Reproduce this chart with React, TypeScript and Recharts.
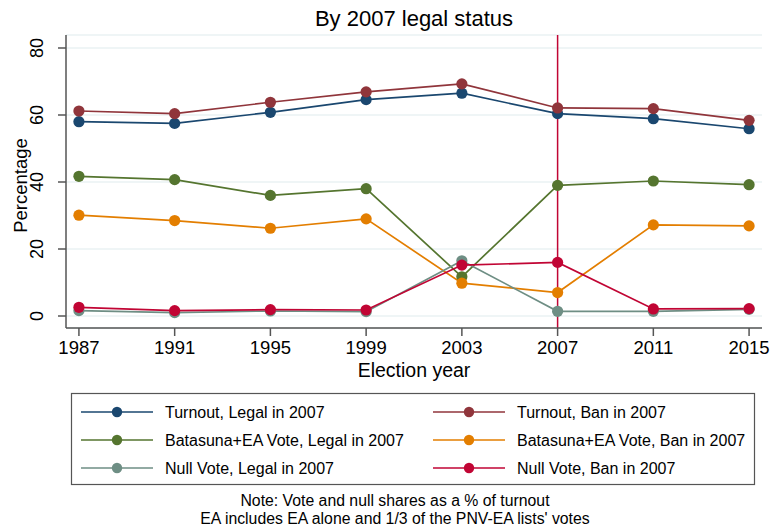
import React from 'react';
import { LineChart, Line, XAxis, YAxis, CartesianGrid, ReferenceLine } from 'recharts';

// Election years and series values (percent)
const years = [1987, 1991, 1995, 1999, 2003, 2007, 2011, 2015];
const turnoutLegal = [58.0, 57.5, 60.8, 64.6, 66.5, 60.4, 58.9, 55.9];
const turnoutBan = [61.2, 60.4, 63.8, 66.9, 69.3, 62.1, 61.9, 58.4];
const batasunaLegal = [41.7, 40.7, 36.0, 38.0, 11.7, 39.0, 40.3, 39.2];
const batasunaBan = [30.1, 28.5, 26.2, 29.0, 9.8, 7.0, 27.2, 26.9];
const nullLegal = [1.6, 1.0, 1.5, 1.3, 16.5, 1.4, 1.4, 2.0];
const nullBan = [2.6, 1.6, 1.9, 1.8, 15.2, 16.0, 2.1, 2.2];

const yTicks = [0, 20, 40, 60, 80];
const banYear = 2007;

const series = [
  { key: 'turnoutLegal', name: 'Turnout, Legal in 2007', color: '#1a476f', values: turnoutLegal },
  { key: 'turnoutBan', name: 'Turnout, Ban in 2007', color: '#90353b', values: turnoutBan },
  { key: 'batasunaLegal', name: 'Batasuna+EA Vote, Legal in 2007', color: '#55752f', values: batasunaLegal },
  { key: 'batasunaBan', name: 'Batasuna+EA Vote, Ban in 2007', color: '#e37e00', values: batasunaBan },
  { key: 'nullLegal', name: 'Null Vote, Legal in 2007', color: '#6e8e84', values: nullLegal },
  { key: 'nullBan', name: 'Null Vote, Ban in 2007', color: '#c10534', values: nullBan },
];

const data = years.map((year, i) => {
  const row: Record<string, number> = { year };
  series.forEach((s) => {
    row[s.key] = s.values[i];
  });
  return row;
});

const FONT = 'Arial, "Liberation Sans", Helvetica, sans-serif';

const YTick = (props: any) => {
  const { x, y, payload } = props;
  const cx = x - 13;
  return (
    <text
      x={cx}
      y={y}
      transform={`rotate(-90 ${cx} ${y})`}
      textAnchor="middle"
      fontSize={18}
      fill="#000"
      fontFamily={FONT}
    >
      {payload.value}
    </text>
  );
};

const YLabel = (props: any) => {
  const { viewBox } = props;
  const cx = viewBox.x + 27;
  const cy = viewBox.y + viewBox.height / 2 + 4;
  return (
    <text
      x={cx}
      y={cy}
      transform={`rotate(-90 ${cx} ${cy})`}
      textAnchor="middle"
      fontSize={18.5}
      fill="#000"
      fontFamily={FONT}
    >
      Percentage
    </text>
  );
};

const XLabel = (props: any) => {
  const { viewBox } = props;
  return (
    <text
      x={viewBox.x + viewBox.width / 2}
      y={viewBox.y + 49}
      textAnchor="middle"
      fontSize={19.5}
      fill="#000"
      fontFamily={FONT}
    >
      Election year
    </text>
  );
};

const legendRows = [0, 1, 2];
const legendCols = [0, 1];

export default function App() {
  return (
    <div style={{ position: 'absolute', left: 0, top: 0, width: 773, height: 532, background: '#fff', fontFamily: FONT }}>
      <svg width={773} height={40} style={{ position: 'absolute', left: 0, top: 0 }}>
        <text x={414} y={26} textAnchor="middle" fontSize={22} fill="#000" fontFamily={FONT}>
          By 2007 legal status
        </text>
      </svg>
      <div style={{ position: 'absolute', left: 0, top: 0 }}>
        <LineChart
          width={773}
          height={532}
          data={data}
          margin={{ top: 35, right: 11, bottom: 174, left: 0 }}
        >
          <CartesianGrid horizontal vertical={false} stroke="#eaf2f3" strokeWidth={1.5} />
          <XAxis
            dataKey="year"
            type="number"
            domain={[1986.46, 2015.54]}
            ticks={years}
            allowDataOverflow
            height={30}
            tickSize={8}
            tickMargin={5}
            stroke="#555"
            strokeWidth={1.5}
            tick={{ fontSize: 18.5, fill: '#000', fontFamily: FONT }}
            label={<XLabel />}
          />
          <YAxis
            type="number"
            domain={[-3.58, 83.88]}
            ticks={yTicks}
            allowDataOverflow
            width={66}
            tickSize={8}
            stroke="#555"
            strokeWidth={1.5}
            tick={<YTick />}
            label={<YLabel />}
          />
          <ReferenceLine x={banYear} stroke="#c10534" strokeWidth={1.5} />
          {series.map((s) => (
            <Line
              key={s.key}
              dataKey={s.key}
              name={s.name}
              stroke={s.color}
              strokeWidth={1.7}
              dot={{ r: 5.6, fill: s.color, stroke: s.color, strokeWidth: 0 }}
              isAnimationActive={false}
            />
          ))}
        </LineChart>
      </div>
      <svg width={773} height={532} style={{ position: 'absolute', left: 0, top: 0, pointerEvents: 'none' }}>
        <rect x={71.5} y={393.5} width={683} height={91} fill="#fff" stroke="#555" strokeWidth={1.2} />
        {legendRows.map((r) =>
          legendCols.map((c) => {
            const s = series[r * 2 + c];
            const x0 = c === 0 ? 81 : 433;
            const y = 412 + r * 28;
            return (
              <g key={s.key}>
                <line x1={x0} x2={x0 + 72} y1={y} y2={y} stroke={s.color} strokeWidth={1.6} />
                <circle cx={x0 + 36} cy={y} r={5.2} fill={s.color} />
                <text x={x0 + 84} y={y + 6} fontSize={16} fill="#000" fontFamily={FONT}>
                  {s.name}
                </text>
              </g>
            );
          })
        )}
        <text x={395} y={505.5} textAnchor="middle" fontSize={15.8} fill="#000" fontFamily={FONT}>
          Note: Vote and null shares as a % of turnout
        </text>
        <text x={395} y={524} textAnchor="middle" fontSize={15.8} fill="#000" fontFamily={FONT}>
          EA includes EA alone and 1/3 of the PNV-EA lists' votes
        </text>
      </svg>
    </div>
  );
}
